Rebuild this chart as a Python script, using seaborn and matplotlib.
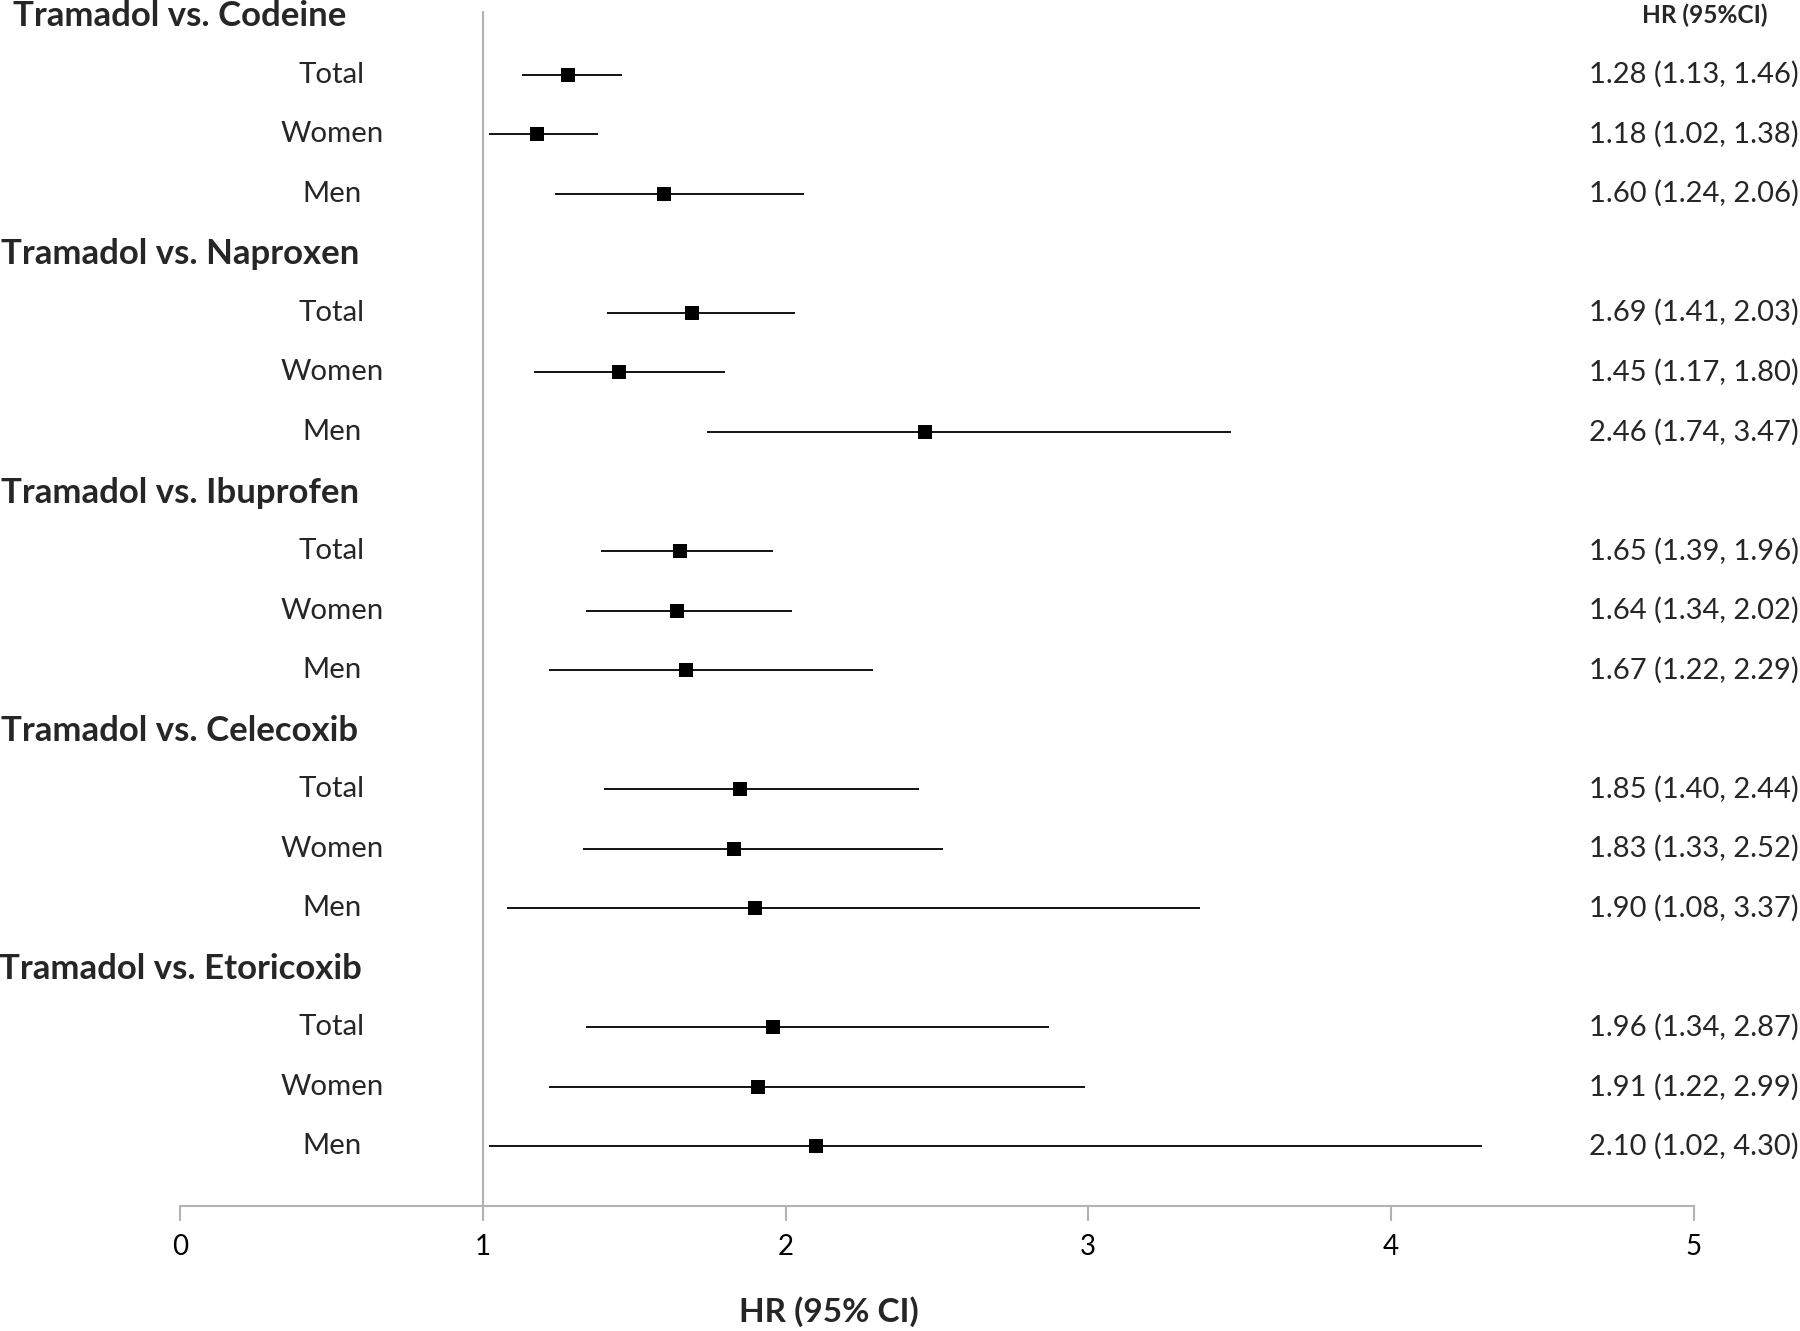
import matplotlib
matplotlib.use("Agg")
import matplotlib.pyplot as plt
import matplotlib.transforms as mtransforms
import seaborn as sns
import pandas as pd
import numpy as np

# ---- data ----
comparisons = ["Tramadol vs. Codeine", "Tramadol vs. Naproxen", "Tramadol vs. Ibuprofen",
               "Tramadol vs. Celecoxib", "Tramadol vs. Etoricoxib"]
subgroups = ["Total", "Women", "Men"]
hr = [1.28, 1.18, 1.60,
      1.69, 1.45, 2.46,
      1.65, 1.64, 1.67,
      1.85, 1.83, 1.90,
      1.96, 1.91, 2.10]
ci_low = [1.13, 1.02, 1.24,
          1.41, 1.17, 1.74,
          1.39, 1.34, 1.22,
          1.40, 1.33, 1.08,
          1.34, 1.22, 1.02]
ci_high = [1.46, 1.38, 2.06,
           2.03, 1.80, 3.47,
           1.96, 2.02, 2.29,
           2.44, 2.52, 3.37,
           2.87, 2.99, 4.30]
x_ticks = [0, 1, 2, 3, 4, 5]

rows = []
for gi, comp in enumerate(comparisons):
    for si, sg in enumerate(subgroups):
        k = gi * 3 + si
        rows.append({"comparison": comp, "subgroup": sg, "hr": hr[k],
                     "lo": ci_low[k], "hi": ci_high[k],
                     "pos": gi * (len(subgroups) + 1) + 1 + si})
df = pd.DataFrame(rows)
header_pos = [gi * (len(subgroups) + 1) for gi in range(len(comparisons))]

sns.set_theme(style="white")
plt.rcParams["font.family"] = ["Lato", "DejaVu Sans"]

fig = plt.figure(figsize=(18, 13.31), dpi=100)
ax = fig.add_axes([0.1, 0.0939, 0.841, 0.8975])

grey = "#b3b3b3"
ax.axvline(1, color=grey, lw=1.5, zorder=1)
ax.hlines(df["pos"], df["lo"], df["hi"], color="black", lw=1.3, zorder=2)
sns.scatterplot(data=df, x="hr", y="pos", marker="s", s=95, color="black",
                edgecolor="black", linewidth=0, ax=ax, zorder=3, legend=False)

ax.set_xlim(0, 5)
ax.set_ylim(20.0, -0.06)
ax.set_xticks(x_ticks)
ax.set_xticklabels([str(t) for t in x_ticks], fontsize=20)
ax.set_yticks([])
ax.set_xlabel("")
ax.set_ylabel("")
for s in ["left", "right", "top"]:
    ax.spines[s].set_visible(False)
ax.spines["bottom"].set_color(grey)
ax.spines["bottom"].set_linewidth(1.5)
ax.tick_params(axis="x", direction="out", length=11, width=1.5, color=grey,
               pad=9, labelcolor="black", bottom=True)

trans = mtransforms.blended_transform_factory(fig.transFigure, ax.transData)
for gi, comp in enumerate(comparisons):
    ax.text(180 / 1800, header_pos[gi] + 0.02, comp, transform=trans, ha="center", va="center",
            fontsize=25, fontweight="bold", clip_on=False)
for _, r in df.iterrows():
    ax.text(332 / 1800, r["pos"], r["subgroup"], transform=trans, ha="center",
            va="center", fontsize=21.2, clip_on=False)
    ax.text(0.9995, r["pos"], f"{r['hr']:.2f} ({r['lo']:.2f}, {r['hi']:.2f})",
            transform=trans, ha="right", va="center", fontsize=21, clip_on=False)
ax.text(1705 / 1800, 0, "HR (95%CI)", transform=trans, ha="center", va="center",
        fontsize=17.6, fontweight="bold", clip_on=False)

fig.text(829 / 1800, 1 - 1312 / 1331, "HR (95% CI)", ha="center", va="center",
         fontsize=24, fontweight="bold")

fig.savefig("out.png", dpi=100)
